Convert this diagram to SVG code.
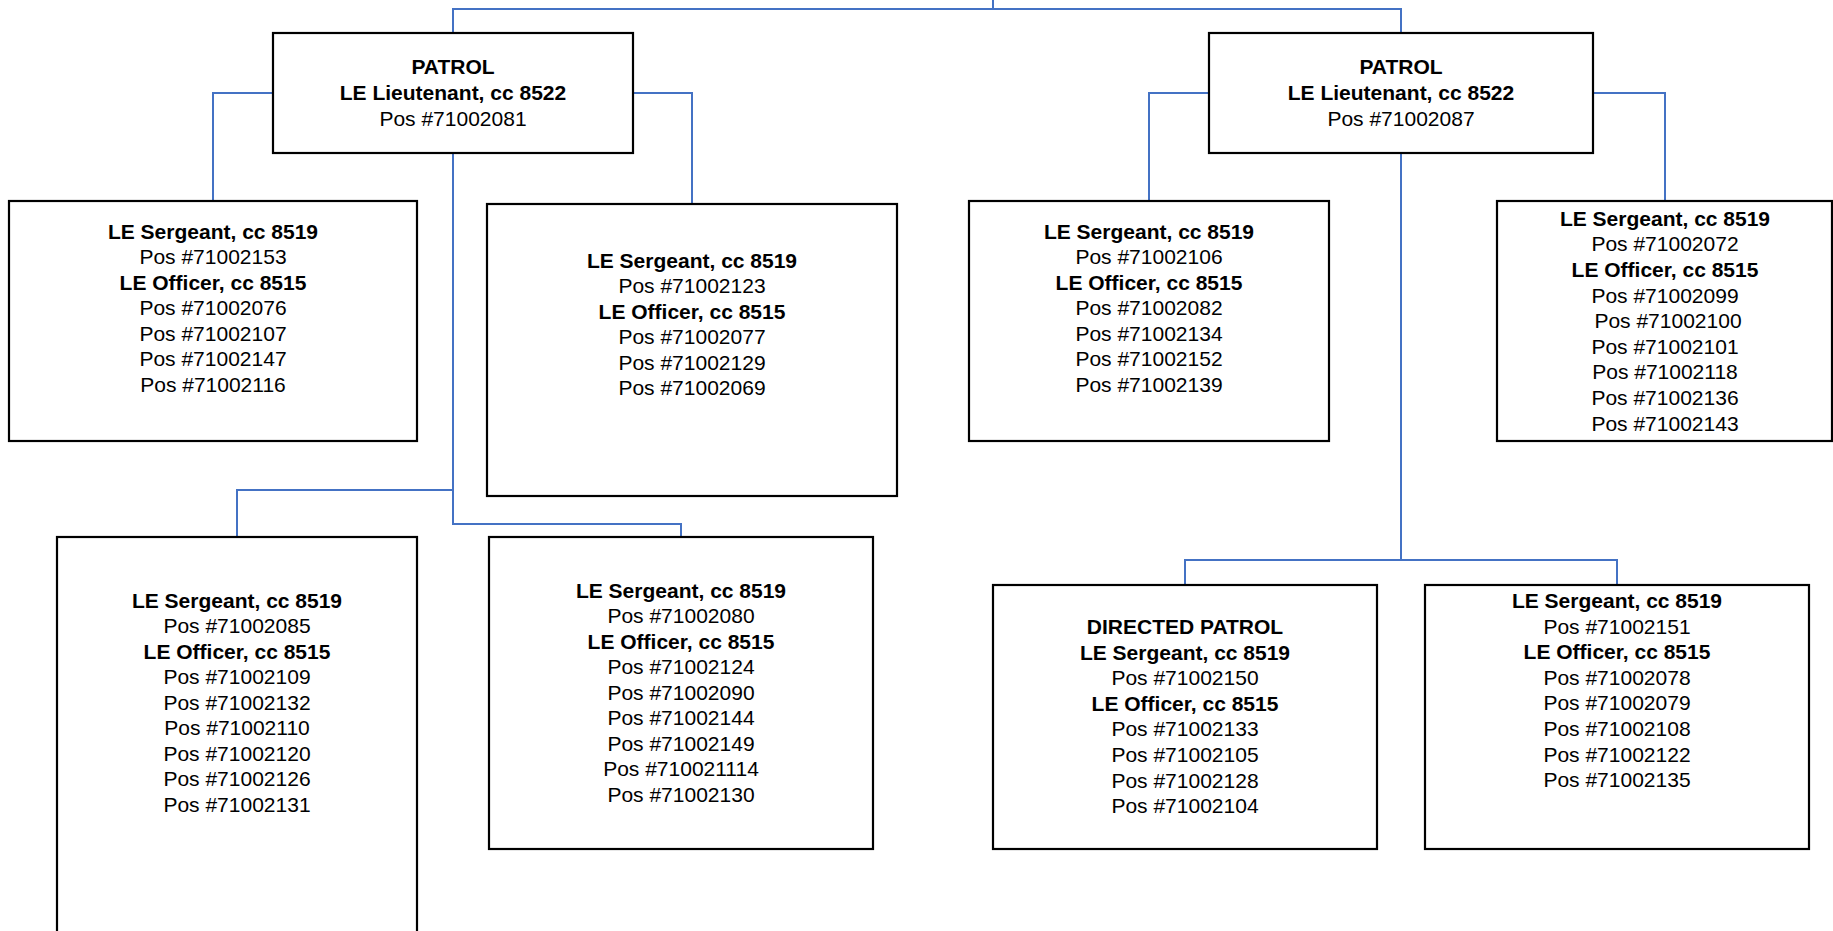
<svg xmlns="http://www.w3.org/2000/svg" width="1833" height="931" viewBox="0 0 1833 931">
  <style>
    .box { fill: #ffffff; stroke: #000000; stroke-width: 2.2; }
    .link { fill: none; stroke: #4472C4; stroke-width: 2; }
    text { font-family: "Liberation Sans", Arial, sans-serif; font-size: 21px; fill: #000000; text-anchor: middle; }
    .b { font-weight: bold; }
  </style>
  <rect width="1833" height="931" fill="#ffffff"/>

  <!-- connectors -->
  <g id="connectors">
    <path class="link" d="M993 0 V9 M453 33 V9 H1401 V33"/>
    <!-- left patrol -->
    <path class="link" d="M273 93 H213 V201"/>
    <path class="link" d="M633 93 H692 V204"/>
    <path class="link" d="M453 153 V490 H237 V537"/>
    <path class="link" d="M453 490 V524 H681 V537"/>
    <!-- right patrol -->
    <path class="link" d="M1209 93 H1149 V201"/>
    <path class="link" d="M1593 93 H1665 V201"/>
    <path class="link" d="M1401 153 V560 H1185 V585"/>
    <path class="link" d="M1401 560 H1617 V585"/>
  </g>

  <g id="patrol-left">
    <rect class="box" x="273" y="33" width="360" height="120"/>
    <text x="453" y="74" class="b">PATROL</text>
    <text x="453" y="100" class="b">LE Lieutenant, cc 8522</text>
    <text x="453" y="125.5">Pos #71002081</text>
  </g>

  <g id="patrol-right">
    <rect class="box" x="1209" y="33" width="384" height="120"/>
    <text x="1401" y="74" class="b">PATROL</text>
    <text x="1401" y="100" class="b">LE Lieutenant, cc 8522</text>
    <text x="1401" y="125.5">Pos #71002087</text>
  </g>

  <g id="squad-1">
    <rect class="box" x="9" y="201" width="408" height="240"/>
    <text x="213" y="238.5" class="b">LE Sergeant, cc 8519</text>
    <text x="213" y="264">Pos #71002153</text>
    <text x="213" y="289.6" class="b">LE Officer, cc 8515</text>
    <text x="213" y="315.2">Pos #71002076</text>
    <text x="213" y="340.8">Pos #71002107</text>
    <text x="213" y="366.4">Pos #71002147</text>
    <text x="213" y="392">Pos #71002116</text>
  </g>

  <g id="squad-2">
    <rect class="box" x="487" y="204" width="410" height="292"/>
    <text x="692" y="267.5" class="b">LE Sergeant, cc 8519</text>
    <text x="692" y="293">Pos #71002123</text>
    <text x="692" y="318.5" class="b">LE Officer, cc 8515</text>
    <text x="692" y="344">Pos #71002077</text>
    <text x="692" y="369.5">Pos #71002129</text>
    <text x="692" y="395">Pos #71002069</text>
  </g>

  <g id="squad-3">
    <rect class="box" x="57" y="537" width="360" height="420"/>
    <text x="237" y="607.5" class="b">LE Sergeant, cc 8519</text>
    <text x="237" y="633">Pos #71002085</text>
    <text x="237" y="658.5" class="b">LE Officer, cc 8515</text>
    <text x="237" y="684">Pos #71002109</text>
    <text x="237" y="709.5">Pos #71002132</text>
    <text x="237" y="735">Pos #71002110</text>
    <text x="237" y="760.5">Pos #71002120</text>
    <text x="237" y="786">Pos #71002126</text>
    <text x="237" y="811.5">Pos #71002131</text>
  </g>

  <g id="squad-4">
    <rect class="box" x="489" y="537" width="384" height="312"/>
    <text x="681" y="597.5" class="b">LE Sergeant, cc 8519</text>
    <text x="681" y="623">Pos #71002080</text>
    <text x="681" y="648.5" class="b">LE Officer, cc 8515</text>
    <text x="681" y="674">Pos #71002124</text>
    <text x="681" y="699.5">Pos #71002090</text>
    <text x="681" y="725">Pos #71002144</text>
    <text x="681" y="750.5">Pos #71002149</text>
    <text x="681" y="776">Pos #710021114</text>
    <text x="681" y="801.5">Pos #71002130</text>
  </g>

  <g id="squad-5">
    <rect class="box" x="969" y="201" width="360" height="240"/>
    <text x="1149" y="238.5" class="b">LE Sergeant, cc 8519</text>
    <text x="1149" y="264">Pos #71002106</text>
    <text x="1149" y="289.6" class="b">LE Officer, cc 8515</text>
    <text x="1149" y="315.2">Pos #71002082</text>
    <text x="1149" y="340.8">Pos #71002134</text>
    <text x="1149" y="366.4">Pos #71002152</text>
    <text x="1149" y="392">Pos #71002139</text>
  </g>

  <g id="squad-6">
    <rect class="box" x="1497" y="201" width="335" height="240"/>
    <text x="1665" y="225.8" class="b">LE Sergeant, cc 8519</text>
    <text x="1665" y="251.4">Pos #71002072</text>
    <text x="1665" y="277" class="b">LE Officer, cc 8515</text>
    <text x="1665" y="302.6">Pos #71002099</text>
    <text x="1668" y="328.2">Pos #71002100</text>
    <text x="1665" y="353.8">Pos #71002101</text>
    <text x="1665" y="379.4">Pos #71002118</text>
    <text x="1665" y="405">Pos #71002136</text>
    <text x="1665" y="430.6">Pos #71002143</text>
  </g>

  <g id="directed-patrol">
    <rect class="box" x="993" y="585" width="384" height="264"/>
    <text x="1185" y="634" class="b">DIRECTED PATROL</text>
    <text x="1185" y="659.6" class="b">LE Sergeant, cc 8519</text>
    <text x="1185" y="685.2">Pos #71002150</text>
    <text x="1185" y="710.8" class="b">LE Officer, cc 8515</text>
    <text x="1185" y="736.4">Pos #71002133</text>
    <text x="1185" y="762">Pos #71002105</text>
    <text x="1185" y="787.6">Pos #71002128</text>
    <text x="1185" y="813.2">Pos #71002104</text>
  </g>

  <g id="squad-8">
    <rect class="box" x="1425" y="585" width="384" height="264"/>
    <text x="1617" y="608" class="b">LE Sergeant, cc 8519</text>
    <text x="1617" y="633.6">Pos #71002151</text>
    <text x="1617" y="659.2" class="b">LE Officer, cc 8515</text>
    <text x="1617" y="684.8">Pos #71002078</text>
    <text x="1617" y="710.4">Pos #71002079</text>
    <text x="1617" y="736">Pos #71002108</text>
    <text x="1617" y="761.6">Pos #71002122</text>
    <text x="1617" y="787.2">Pos #71002135</text>
  </g>
</svg>
